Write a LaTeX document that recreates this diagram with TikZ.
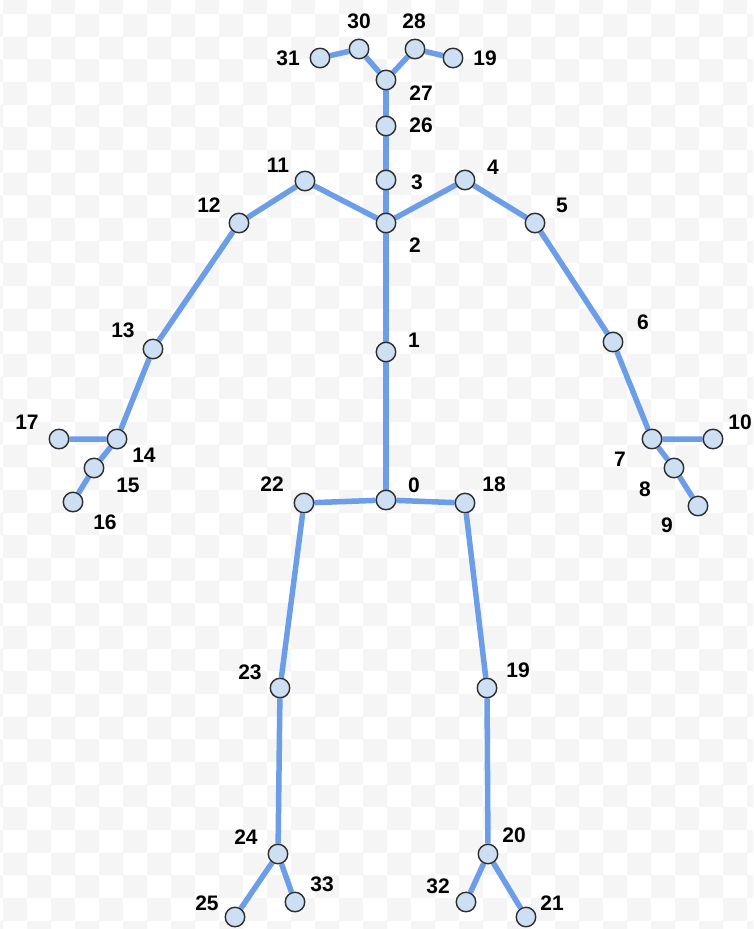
\documentclass[tikz,border=0pt]{standalone}
\usepackage{fontspec}
\usetikzlibrary{backgrounds}
\newfontfamily\numfont{Liberation Sans}
\definecolor{bonecol}{RGB}{108,157,232}
\definecolor{jointfill}{RGB}{205,223,243}
\definecolor{jointdraw}{RGB}{45,45,45}
\definecolor{checkcol}{RGB}{245,245,245}
\tikzset{
  joint/.style={circle, draw=jointdraw, fill=jointfill, line width=1.4pt, minimum size=19.5pt, inner sep=0pt},
  bone/.style={draw=bonecol, line width=5.5pt},
  num/.style={font=\numfont\bfseries\fontsize{21}{21}\selectfont, text=black, inner sep=0pt}}

\begin{document}
\begin{tikzpicture}[x=1pt, y=-1pt]
  \useasboundingbox (0,0) rectangle (753,929);

  \node[joint] (j0) at (386,500) {};   \node[num] (l0) at (414,485) {0};
  \node[joint] (j1) at (386,352) {};   \node[num] (l1) at (414,340) {1};
  \node[joint] (j2) at (386,223) {};   \node[num] (l2) at (415,245) {2};
  \node[joint] (j3) at (386,180) {};   \node[num] (l3) at (417,182) {3};
  \node[joint] (j26) at (386,126) {};  \node[num] (l26) at (421,125) {26};
  \node[joint] (j27) at (386,80) {};   \node[num] (l27) at (421,93) {27};
  \node[joint] (j30) at (359,49) {};   \node[num] (l30) at (359,21) {30};
  \node[joint] (j31) at (320,58) {};   \node[num] (l31) at (288,58) {31};
  \node[joint] (j28) at (415,49) {};   \node[num] (l28) at (414,21) {28};
  \node[joint] (j19h) at (453,58) {};  \node[num] (l19h) at (485,58) {19};
  \node[joint] (j11) at (305,181) {};  \node[num] (l11) at (278,165) {11};
  \node[joint] (j12) at (239,223) {};  \node[num] (l12) at (209,205) {12};
  \node[joint] (j13) at (153,349) {};  \node[num] (l13) at (123,330) {13};
  \node[joint] (j14) at (117,439) {};  \node[num] (l14) at (144,455) {14};
  \node[joint] (j17) at (59,439) {};   \node[num] (l17) at (27,422) {17};
  \node[joint] (j15) at (94,468) {};   \node[num] (l15) at (128,485) {15};
  \node[joint] (j16) at (73,502) {};   \node[num] (l16) at (105,522) {16};
  \node[joint] (j4) at (465,180) {};   \node[num] (l4) at (493,167) {4};
  \node[joint] (j5) at (535,223) {};   \node[num] (l5) at (562,205) {5};
  \node[joint] (j6) at (613,342) {};   \node[num] (l6) at (643,322) {6};
  \node[joint] (j7) at (652,439) {};   \node[num] (l7) at (620,459) {7};
  \node[joint] (j10) at (713,439) {};  \node[num] (l10) at (740,422) {10};
  \node[joint] (j8) at (674,468) {};   \node[num] (l8) at (645,489) {8};
  \node[joint] (j9) at (698,506) {};   \node[num] (l9) at (667,525) {9};
  \node[joint] (j22) at (304,503) {};  \node[num] (l22) at (272,484) {22};
  \node[joint] (j23) at (280,688) {};  \node[num] (l23) at (250,672) {23};
  \node[joint] (j24) at (278,854) {};  \node[num] (l24) at (246,837) {24};
  \node[joint] (j25) at (235,917) {};  \node[num] (l25) at (207,903) {25};
  \node[joint] (j33) at (295,902) {};  \node[num] (l33) at (322,884) {33};
  \node[joint] (j18) at (465,503) {};  \node[num] (l18) at (494,484) {18};
  \node[joint] (j19) at (487,688) {};  \node[num] (l19) at (518,670) {19};
  \node[joint] (j20) at (488,854) {};  \node[num] (l20) at (514,835) {20};
  \node[joint] (j32) at (466,902) {};  \node[num] (l32) at (438,886) {32};
  \node[joint] (j21) at (526,917) {};  \node[num] (l21) at (552,903) {21};

  \begin{scope}[on background layer]
    \clip (0,0) rectangle (753,929);
    \foreach \c in {-1,...,31} {
      \foreach \r in {0,...,41} {
        \pgfmathtruncatemacro\s{\c+\r+2}
        \ifodd\s\else
          \fill[checkcol] ({2.7+24*\c},{-8.67+22.67*\r}) rectangle ++(24,22.67);
        \fi
      }
    }
    \draw[bone] (j0) -- (j1) -- (j2) -- (j3) -- (j26) -- (j27);
    \draw[bone] (j27) -- (j30) -- (j31);
    \draw[bone] (j27) -- (j28) -- (j19h);
    \draw[bone] (j2) -- (j11) -- (j12) -- (j13) -- (j14) -- (j17);
    \draw[bone] (j14) -- (j15) -- (j16);
    \draw[bone] (j2) -- (j4) -- (j5) -- (j6) -- (j7) -- (j10);
    \draw[bone] (j7) -- (j8) -- (j9);
    \draw[bone] (j0) -- (j22) -- (j23) -- (j24) -- (j25);
    \draw[bone] (j24) -- (j33);
    \draw[bone] (j0) -- (j18) -- (j19) -- (j20) -- (j21);
    \draw[bone] (j20) -- (j32);
  \end{scope}
\end{tikzpicture}
\end{document}
